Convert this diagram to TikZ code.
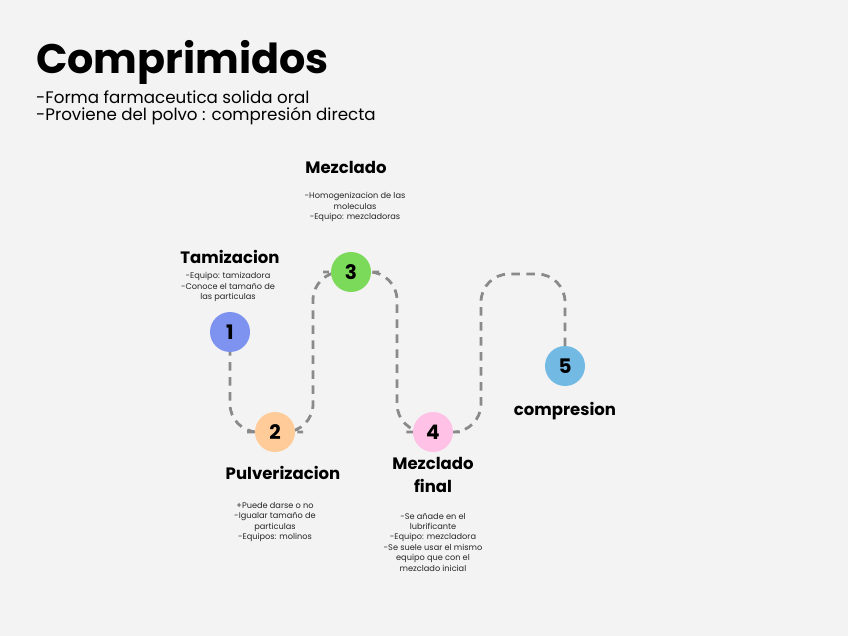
\documentclass[tikz,border=0pt]{standalone}
\usepackage{fontspec}
\setmainfont{Poppins}
\usetikzlibrary{backgrounds}
\definecolor{bgc}{HTML}{F3F3F3}
\definecolor{dashc}{HTML}{8A8A8A}
\definecolor{cone}{HTML}{7E93F0}
\definecolor{ctwo}{HTML}{FFCC99}
\definecolor{cthree}{HTML}{7BDA5A}
\definecolor{cfour}{HTML}{FFC2E6}
\definecolor{cfive}{HTML}{72B9E4}
\tikzset{
  stepdot/.style={circle,minimum size=40pt,inner sep=0pt,font=\bfseries\fontsize{20}{20}\selectfont},
  steptitle/.style={font=\bfseries\fontsize{16.5}{19}\selectfont,align=center,inner sep=0pt},
  stepnote/.style={font=\fontsize{8.2}{10.4}\selectfont,align=center,inner sep=0pt,text=black!85},
  trail/.style={draw=dashc,line width=2.8pt,dash pattern=on 8.5pt off 6.5pt,rounded corners=28pt}
}
\begin{document}
\begin{tikzpicture}[x=1pt,y=-1pt]
\useasboundingbox (0,0) rectangle (848,636);

\node[anchor=west,inner sep=0pt,font=\bfseries\fontsize{41.3}{41}\selectfont] (title) at (36,62) {Comprimidos};
\node[anchor=west,inner sep=0pt,font=\fontsize{16.7}{18}\selectfont] (sub1) at (36,97) {-Forma farmaceutica solida oral};
\node[anchor=west,inner sep=0pt,font=\fontsize{16.7}{18}\selectfont] (sub2) at (36,116) {-Proviene del polvo : compresión directa};

\node[stepdot,fill=cone] (c1) at (230,332) {1};
\node[stepdot,fill=ctwo] (c2) at (275,432) {2};
\node[stepdot,fill=cthree] (c3) at (351,272) {3};
\node[stepdot,fill=cfour] (c4) at (433,432) {4};
\node[stepdot,fill=cfive] (c5) at (565,366) {5};

\begin{scope}[on background layer]
\fill[bgc] (0,0) rectangle (848,636);
\draw[trail] (c1.center) -- (230,432) -- (c2.center) -- (313,432) -- (313,272) -- (c3.center)
  -- (397,272) -- (397,432) -- (c4.center) -- (481,432) -- (481,274) -- (565,274) -- (c5.center);
\end{scope}

\node[steptitle] (t1) at (230,257) {Tamizacion};
\node[stepnote] (n1) at (228,287) {-Equipo: tamizadora\\-Conoce el tamaño de\\las particulas};

\node[steptitle] (t3) at (346,167) {Mezclado};
\node[stepnote] (n3) at (355,207) {-Homogenizacion de las\\moleculas\\-Equipo: mezcladoras};

\node[steptitle] (t2) at (283,473) {Pulverizacion};
\node[stepnote] (n2) at (275,522) {+Puede darse o no\\-Igualar tamaño de\\particulas\\-Equipos: molinos};

\node[steptitle,font=\bfseries\fontsize{16.5}{23}\selectfont] (t4) at (433,475) {Mezclado\\final};
\node[stepnote] (n4) at (433,542) {-Se añade en el\\lubrificante\\-Equipo: mezcladora\\-Se suele usar el mismo\\equipo que con el\\mezclado inicial};

\node[steptitle] (t5) at (565,411) {compresion};
\end{tikzpicture}
\end{document}
